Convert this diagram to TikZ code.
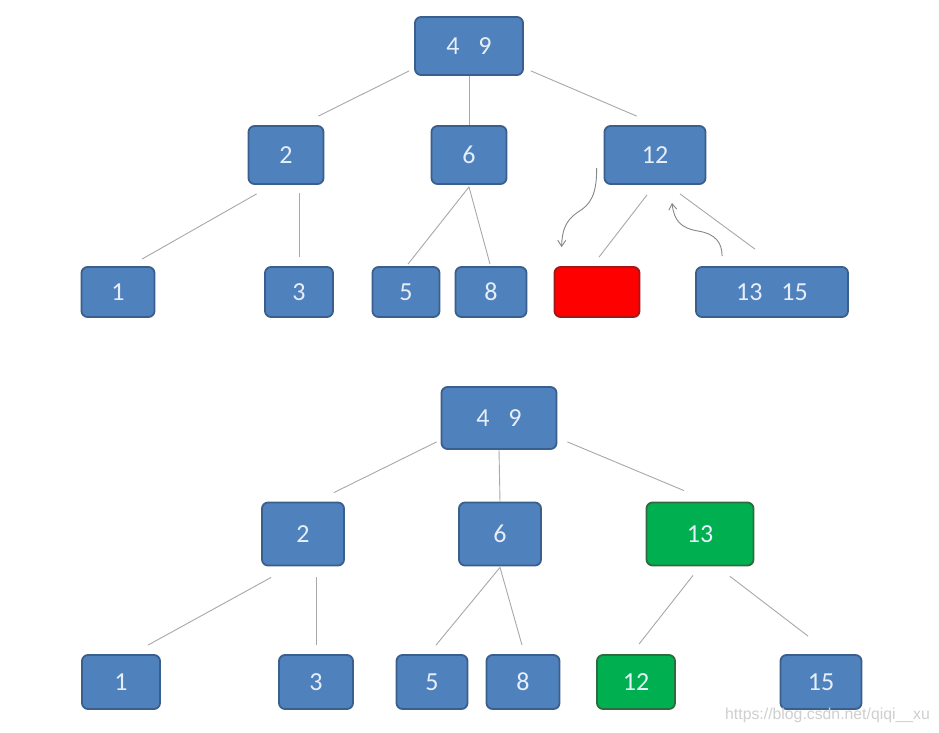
\documentclass[tikz,border=0pt]{standalone}
\usepackage{fontspec}
\setmainfont{Carlito}
\newfontfamily\wmfont{Liberation Sans}
\usetikzlibrary{calc,arrows.meta}
\definecolor{bfill}{HTML}{4F81BD}
\definecolor{bdraw}{HTML}{3A5F8C}
\definecolor{rfill}{HTML}{FF0000}
\definecolor{rdraw}{HTML}{A01818}
\definecolor{gfill}{HTML}{00B050}
\definecolor{gdraw}{HTML}{2F6B40}
\definecolor{ntext}{HTML}{E6EEFA}
\definecolor{lcol}{HTML}{A8A8A8}
\definecolor{wm}{HTML}{CFCFCF}
\tikzset{
  box/.style={draw=bdraw, fill=bfill, line width=1.8pt, rounded corners=6pt,
    text=ntext, font=\fontsize{26}{26}\selectfont, inner sep=0pt, align=center},
  bluebox/.style={box},
  redbox/.style={box, draw=rdraw, fill=rfill},
  greenbox/.style={box, draw=gdraw, fill=gfill},
  link/.style={draw=lcol, line width=0.9pt},
  curvy/.style={draw=lcol!80!black, line width=0.9pt, -{Straight Barb[length=6pt,width=8pt]}}
}
\newcommand{\gap}{\hspace{19pt}}
\begin{document}
\begin{tikzpicture}[x=1pt,y=-1pt]
\useasboundingbox[fill=white] (0,0) rectangle (939,733);
% ---------- top tree ----------
\node[bluebox, minimum width=108pt, minimum height=58pt] (t49) at (469,46) {4\gap 9};
\node[bluebox, minimum width=75pt, minimum height=58pt] (t2) at (286,155) {2};
\node[bluebox, minimum width=75pt, minimum height=58pt] (t6) at (469,155) {6};
\node[bluebox, minimum width=101pt, minimum height=58pt] (t12) at (655,155) {12};
\node[bluebox, minimum width=73pt, minimum height=50pt] (t1) at (118,292) {1};
\node[bluebox, minimum width=68pt, minimum height=50pt] (t3) at (299,292) {3};
\node[bluebox, minimum width=67pt, minimum height=50pt] (t5) at (406,292) {5};
\node[bluebox, minimum width=71pt, minimum height=50pt] (t8) at (491,292) {8};
\node[redbox, minimum width=85pt, minimum height=50pt] (tred) at (597,292) {};
\node[bluebox, minimum width=152pt, minimum height=50pt] (t1315) at (772,292) {13\gap 15};

\draw[link] ($(t49.south west)+(-5,-5)$) -- ($(t2.north east)+(-6,-9)$);
\draw[link] (t49.south) -- (t6.north);
\draw[link] ($(t49.south east)+(7,-5)$) -- ($(t12.north west)+(33,-9)$);
\draw[link] ($(t2.south west)+(9,9)$) -- ($(t1.north)+(24,-7)$);
\draw[link] ($(t2.south -| t3.north)+(0,8)$) -- ($(t3.north)+(0,-9)$);
\draw[link] ($(t6.south)+(0,2)$) -- ($(t5.north)+(2,-2)$);
\draw[link] ($(t6.south)+(0,2)$) -- ($(t8.north)+(-1,-2)$);
\draw[link] ($(t12.south)+(-8,10)$) -- ($(tred.north)+(2,-9)$);
\draw[link] ($(t12.south)+(25,9)$) -- ($(t1315.north)+(-17,-17)$);

\coordinate (la) at ($(t12.west)+(-7,13)$);
\coordinate (lb) at ($(tred.north west)+(8,-19)$);
\draw[curvy] (la) .. controls (597,195) and (590,205) .. (578,212)
  .. controls (566,220) and (562,230) .. (lb);
\coordinate (ra) at ($(t1315.north west)+(27,-10)$);
\coordinate (rb) at ($(t12.south)+(17,18)$);
\draw[curvy] (ra) .. controls (722,243) and (716,234) .. (698,231)
  .. controls (680,228) and (674,220) .. (rb);

% ---------- bottom tree ----------
\node[bluebox, minimum width=115pt, minimum height=62pt] (b49) at (499,418) {4\gap 9};
\node[bluebox, minimum width=82pt, minimum height=63pt] (b2) at (303,534) {2};
\node[bluebox, minimum width=82pt, minimum height=63pt] (b6) at (500,534) {6};
\node[greenbox, minimum width=107pt, minimum height=63pt] (b13) at (700,534) {13};
\node[bluebox, minimum width=78pt, minimum height=54pt] (b1) at (121,682) {1};
\node[bluebox, minimum width=74pt, minimum height=54pt] (b3) at (316,682) {3};
\node[bluebox, minimum width=71pt, minimum height=54pt] (b5) at (432,682) {5};
\node[bluebox, minimum width=73pt, minimum height=54pt] (b8) at (523,682) {8};
\node[greenbox, minimum width=78pt, minimum height=54pt] (b12) at (636,682) {12};
\node[bluebox, minimum width=81pt, minimum height=54pt] (b15) at (821,682) {15};

\draw[link] ($(b49.south west)+(-4,-8)$) -- ($(b2.north east)+(-11,-9)$);
\draw[link] (b49.south) -- (b6.north);
\draw[link] ($(b49.south east)+(10,-8)$) -- ($(b13.north)+(-16,-11)$);
\draw[link] ($(b2.south west)+(10,11)$) -- ($(b1.north)+(27,-9)$);
\draw[link] ($(b2.south -| b3.north)+(0,11)$) -- ($(b3.north)+(0,-9)$);
\draw[link] ($(b6.south)+(0,1)$) -- ($(b5.north)+(4,-9)$);
\draw[link] ($(b6.south)+(0,1)$) -- ($(b8.north)+(-1,-9)$);
\draw[link] ($(b13.south)+(-7,9)$) -- ($(b12.north)+(3,-10)$);
\draw[link] ($(b13.south)+(30,10)$) -- ($(b15.north)+(-13,-18)$);

\node[text=wm, font=\wmfont\fontsize{15.8}{15.8}\selectfont, anchor=base west, inner sep=0pt] (wmark) at (725,719) {https://blog.csdn.net/qiqi\_\_xu};
\end{tikzpicture}
\end{document}
